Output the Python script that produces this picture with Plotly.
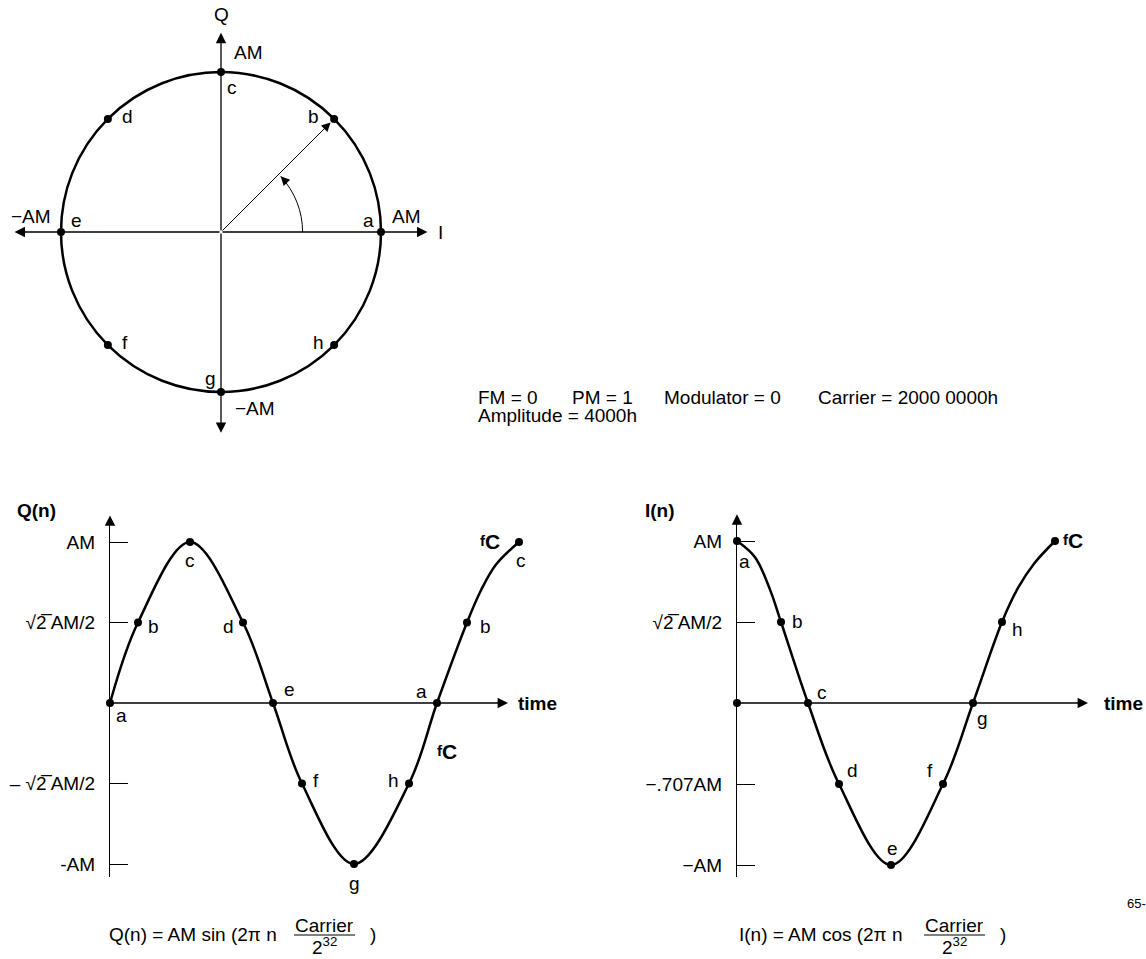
import plotly.graph_objects as go

W, H = 1146, 959
FONT = "Liberation Sans, Arial, Helvetica, sans-serif"

# --- phasor diagram (unit = AM)
circle_labels = ['a', 'b', 'c', 'd', 'e', 'f', 'g', 'h']
circle_i = [1, 0.707, 0, -0.707, -1, -0.707, 0, 0.707]
circle_q = [0, 0.707, 1, 0.707, 0, -0.707, -1, -0.707]

# --- Q(n) labelled samples (time in drawing units, value in AM)
q_labels = ['a', 'b', 'c', 'd', 'e', 'f', 'g', 'h', 'a', 'b', 'c']
q_time = [0, 28, 80, 133, 163, 192, 244, 299, 327, 357, 409]
q_value = [0, 0.5, 1, 0.5, 0, -0.5, -1, -0.5, 0, 0.5, 1]
# curve (labelled samples plus a few points near the end)
q_curve_t = [0, 28, 80, 133, 163, 192, 244, 299, 327, 357, 371, 386, 409]
q_curve_v = [0, 0.5, 1, 0.5, 0, -0.5, -1, -0.5, 0, 0.5, 0.70, 0.86, 1]
q_tickvals = [1, 0.5, -0.5, -1]
q_ticktext = ['AM', '\u221a2\u0305 AM/2', '\u2013 \u221a2\u0305 AM/2', '-AM']

# --- I(n) labelled samples
i_labels = ['a', 'b', 'c', 'd', 'e', 'f', 'g', 'h', '']
i_time = [0, 44, 71, 102, 154, 206, 236, 265, 318]
i_value = [1, 0.5, 0, -0.5, -1, -0.5, 0, 0.5, 1]
i_curve_t = [0, 18, 33, 44, 71, 102, 154, 206, 236, 265, 281, 297, 318]
i_curve_v = [1, 0.90, 0.70, 0.5, 0, -0.5, -1, -0.5, 0, 0.5, 0.71, 0.86, 1]
i_tickvals = [1, 0.5, -0.5, -1]
i_ticktext = ['AM', '\u221a2\u0305 AM/2', '\u2212.707AM', '\u2212AM']

params = ['FM = 0', 'PM = 1', 'Modulator = 0', 'Carrier = 2000 0000h']
param_x = [476, 570, 662, 816]

fig = go.Figure()

# circle points
fig.add_trace(go.Scatter(x=circle_i, y=circle_q, mode='markers',
                         marker=dict(size=8, color='black'),
                         xaxis='x', yaxis='y', hoverinfo='skip'))
# Q(n)
fig.add_trace(go.Scatter(x=q_curve_t, y=q_curve_v, mode='lines',
                         line=dict(color='black', width=2.5, shape='spline', smoothing=1),
                         xaxis='x2', yaxis='y2', hoverinfo='skip'))
fig.add_trace(go.Scatter(x=q_time, y=q_value, mode='markers',
                         marker=dict(size=8, color='black'),
                         xaxis='x2', yaxis='y2', cliponaxis=False, hoverinfo='skip'))
# I(n)
fig.add_trace(go.Scatter(x=i_curve_t, y=i_curve_v, mode='lines',
                         line=dict(color='black', width=2.5, shape='spline', smoothing=1),
                         xaxis='x3', yaxis='y3', hoverinfo='skip'))
fig.add_trace(go.Scatter(x=i_time + [0], y=i_value + [0], mode='markers',
                         marker=dict(size=8, color='black'),
                         xaxis='x3', yaxis='y3', cliponaxis=False, hoverinfo='skip'))

ann = []


def arrow(x, y, ax, ay, xr, yr, w=1.3, standoff=0, size=1.6):
    ann.append(dict(x=x, y=y, ax=ax, ay=ay, xref=xr, yref=yr, axref=xr, ayref=yr,
                    showarrow=True, arrowhead=2, arrowsize=size, arrowwidth=w,
                    arrowcolor='black', text='', standoff=standoff))


def label(text, x, y, xr, yr, dx=0, dy=0, size=19, xanchor='center', bold=False):
    if bold:
        text = '<b>' + text + '</b>'
    ann.append(dict(x=x, y=y, xref=xr, yref=yr, text=text, showarrow=False,
                    xshift=dx, yshift=dy, xanchor=xanchor, yanchor='middle',
                    font=dict(family=FONT, size=size, color='black')))


FC = 'f<sub><span style="font-size:21px">C</span></sub>'

# circle axes
arrow(1.29, 0, 0, 0, 'x', 'y')
arrow(-1.29, 0, 0, 0, 'x', 'y')
arrow(0, 1.245, 0, 0, 'x', 'y')
arrow(0, -1.255, 0, 0, 'x', 'y')
arrow(circle_i[1], circle_q[1], 0, 0, 'x', 'y', w=1, standoff=5, size=1.8)
# angle arc arrowhead
arrow(0.373, 0.348, 0.40, 0.32, 'x', 'y', w=1, size=1.8)

circ_off = [(-13, 12), (-21, 2), (11, -15), (20, 2), (15, 12), (17, 3), (-11, 14), (-16, 3)]
for lab, xi, yq, (dx, dy) in zip(circle_labels, circle_i, circle_q, circ_off):
    label(lab, xi, yq, 'x', 'y', dx, dy)
label('Q', 0, 1.245, 'x', 'y', 0, 18)
label('I', 1.29, 0, 'x', 'y', 13, 0)
label('AM', 0, 1, 'x', 'y', 27, 20)
label('\u2212AM', 0, -1, 'x', 'y', 34, -16)
label('\u2212AM', -1, 0, 'x', 'y', -30, 16)
label('AM', 1, 0, 'x', 'y', 25, 16)

# Q(n) axes arrows and labels
arrow(0, 1.165, 0, 1.10, 'x2', 'y2')
arrow(398, 0, 0, 0, 'x2', 'y2')
q_off = [(11, -12), (15, -4), (0, -18), (-15, -4), (16, 14), (14, 3), (0, -19), (-16, 3),
         (-16, 12), (18, -4), (2, -18)]
for lab, t, v, (dx, dy) in zip(q_labels, q_time, q_value, q_off):
    label(lab, t, v, 'x2', 'y2', dx, dy)
label(FC, q_time[-1], q_value[-1], 'x2', 'y2', -29, 1, size=15, bold=True)
label(FC, q_time[8], q_value[8], 'x2', 'y2', 10, -48, size=15, bold=True)
label('time', 406, 0, 'x2', 'y2', 0, 0, xanchor='left', bold=True)
label('Q(n)', 15 / W, 1 - 510 / H, 'paper', 'paper', xanchor='left', bold=True)

# I(n) axes arrows and labels
arrow(0, 1.165, 0, 1.10, 'x3', 'y3')
arrow(351, 0, 0, 0, 'x3', 'y3')
i_off = [(7, -20), (16, 1), (14, 11), (13, 14), (1, 17), (-13, 14), (9, -15), (15, -7), (0, 0)]
for lab, t, v, (dx, dy) in zip(i_labels, i_time, i_value, i_off):
    if lab:
        label(lab, t, v, 'x3', 'y3', dx, dy)
label(FC, i_time[-1], i_value[-1], 'x3', 'y3', 18, 1, size=15, bold=True)
label('time', 365, 0, 'x3', 'y3', 0, 0, xanchor='left', bold=True)
label('I(n)', 643 / W, 1 - 510 / H, 'paper', 'paper', xanchor='left', bold=True)

# parameter text
for txt, px in zip(params, param_x):
    label(txt, px / W, 1 - 397 / H, 'paper', 'paper', xanchor='left', size=19)
label('Amplitude = 4000h', 476 / W, 1 - 415 / H, 'paper', 'paper', xanchor='left', size=19)
label('65-', 1125 / W, 1 - 903 / H, 'paper', 'paper', xanchor='left', size=13)

# formulas
for start, fn in [(107, 'Q(n) = AM sin (2\u03c0 n'), (737, 'I(n) = AM cos (2\u03c0 n')]:
    label(fn, start / W, 1 - 934 / H, 'paper', 'paper', xanchor='left')
    label('Carrier', (start + 217) / W, 1 - 925 / H, 'paper', 'paper')
    label('2<sup>32</sup>', (start + 217) / W, 1 - 946 / H, 'paper', 'paper')
    label(')', (start + 266) / W, 1 - 934 / H, 'paper', 'paper')

shapes = [
    dict(type='circle', xref='x', yref='y', x0=-1, y0=-1, x1=1, y1=1,
         line=dict(color='black', width=2.5)),
    dict(type='path', xref='x', yref='y', path='M 0.51,0 C 0.51,0.129 0.461,0.253 0.373,0.348',
         line=dict(color='black', width=1)),
    dict(type='line', xref='paper', yref='paper', x0=294 / W, x1=355 / W,
         y0=1 - 935 / H, y1=1 - 935 / H, line=dict(color='black', width=1)),
    dict(type='line', xref='paper', yref='paper', x0=924 / W, x1=985 / W,
         y0=1 - 935 / H, y1=1 - 935 / H, line=dict(color='black', width=1)),
]

yax_common = dict(showline=True, linecolor='black', linewidth=1.3, ticks='inside', ticklen=18,
                  tickwidth=1, tickcolor='black', showgrid=False, zeroline=False,
                  ticklabelstandoff=10, tickfont=dict(family=FONT, size=19, color='black'),
                  fixedrange=True)

fig.update_layout(
    width=W, height=H, margin=dict(l=0, r=0, t=0, b=0),
    paper_bgcolor='white', plot_bgcolor='white', showlegend=False,
    xaxis=dict(domain=[0, 442 / W], range=[-221 / 160, 221 / 160], visible=False),
    yaxis=dict(domain=[1 - 464 / H, 1], range=[-1.45, 1.45], visible=False),
    xaxis2=dict(domain=[110 / W, 530 / W], range=[0, 420], visible=False),
    yaxis2=dict(domain=[1 - 877 / H, 1 - 522 / H], range=[-(877 - 703) / 161, (703 - 522) / 161],
                anchor='x2', tickvals=q_tickvals, ticktext=q_ticktext, **yax_common),
    xaxis3=dict(domain=[737 / W, 1], range=[0, 409], visible=False),
    yaxis3=dict(domain=[1 - 877 / H, 1 - 522 / H], range=[-(877 - 703) / 162, (703 - 522) / 162],
                anchor='x3', tickvals=i_tickvals, ticktext=i_ticktext, **yax_common),
    annotations=ann, shapes=shapes,
)

fig.write_html("out.html", config={'displayModeBar': False},
               post_script="document.body.style.margin='0px';")
